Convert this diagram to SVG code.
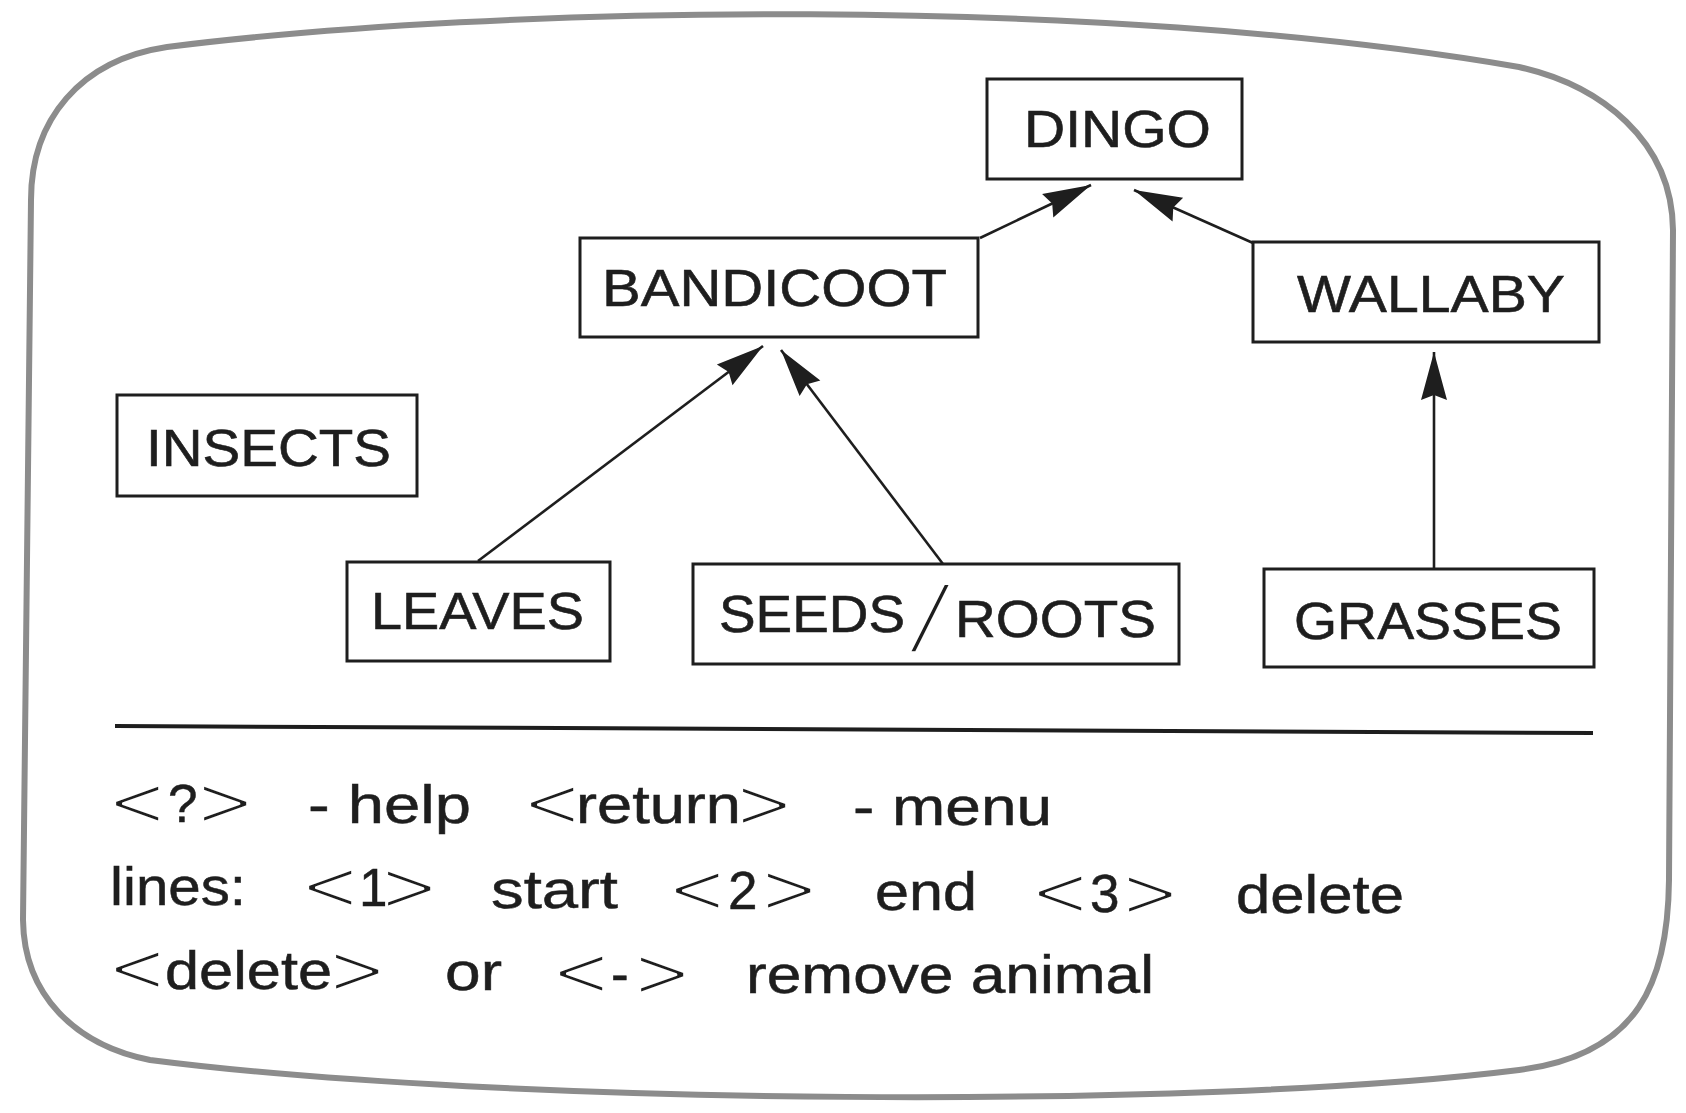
<svg xmlns="http://www.w3.org/2000/svg" width="1686" height="1113" viewBox="0 0 1686 1113">
<defs>
<marker id="ah" markerUnits="userSpaceOnUse" viewBox="-52 -16 54 32" markerWidth="54" markerHeight="32" refX="0" refY="0" orient="auto">
<path d="M0,0 L-48,-13 L-43,0 L-48,13 Z" fill="#1e1e1e"/>
</marker>
</defs>
<style>
.frame{fill:none;stroke:#8c8c8c;stroke-width:6;stroke-linejoin:round}
.box{fill:#fff;stroke:#1e1e1e;stroke-width:3}
.lbl{font-family:"Liberation Sans",Arial,Helvetica,sans-serif;font-size:52px;fill:#1e1e1e;stroke:#1e1e1e;stroke-width:0.6}
.menu{font-family:"Liberation Sans",Arial,Helvetica,sans-serif;font-size:53px;fill:#1e1e1e;stroke:#1e1e1e;stroke-width:0.5}
.br{font-family:"DejaVu Sans","Liberation Sans",sans-serif;font-size:72px;stroke:#fff;stroke-width:3;stroke-linejoin:round}
.slash{font-family:"Liberation Sans",Arial,sans-serif;font-size:95px;fill:#1e1e1e;stroke:#fff;stroke-width:3.5;stroke-linejoin:round}
.conn{fill:none;stroke:#1e1e1e;stroke-width:2.6;marker-end:url(#ah)}
.rule{stroke:#1e1e1e;stroke-width:4}
</style>
<rect width="1686" height="1113" fill="#fff"/>
<path class="frame" d="M167,47 C500,5 1100,-5 1519,67 C1600,85 1672,140 1673,230 L1669,880 C1668,980 1640,1055 1519,1070 C1200,1110 500,1105 150,1060 C75,1045 24,995 23,920 L31,200 C31,120 80,60 167,47 Z"/>
<g id="connectors">
<line class="conn" x1="980" y1="238" x2="1091" y2="185"/>
<line class="conn" x1="1253" y1="243" x2="1134" y2="190"/>
<line class="conn" x1="478" y1="561" x2="763" y2="346"/>
<line class="conn" x1="943" y1="564" x2="781" y2="350"/>
<line class="conn" x1="1434" y1="568" x2="1434" y2="352"/>
</g>
<g id="node-dingo">
<rect class="box" x="987" y="79" width="255" height="100"/>
<text class="lbl" x="1024" y="147" textLength="187" lengthAdjust="spacingAndGlyphs">DINGO</text>
</g>
<g id="node-bandicoot">
<rect class="box" x="580" y="238" width="398" height="99"/>
<text class="lbl" x="602" y="306" textLength="345" lengthAdjust="spacingAndGlyphs">BANDICOOT</text>
</g>
<g id="node-wallaby">
<rect class="box" x="1253" y="242" width="346" height="100"/>
<text class="lbl" x="1297" y="312" textLength="268" lengthAdjust="spacingAndGlyphs">WALLABY</text>
</g>
<g id="node-insects">
<rect class="box" x="117" y="395" width="300" height="101"/>
<text class="lbl" x="146" y="466" textLength="245" lengthAdjust="spacingAndGlyphs">INSECTS</text>
</g>
<g id="node-leaves">
<rect class="box" x="347" y="562" width="263" height="99"/>
<text class="lbl" x="371" y="629" textLength="213" lengthAdjust="spacingAndGlyphs">LEAVES</text>
</g>
<g id="node-seeds-roots">
<rect class="box" x="693" y="564" width="486" height="100"/>
<text class="lbl"><tspan x="719" y="632" textLength="186" lengthAdjust="spacingAndGlyphs">SEEDS</tspan><tspan x="955" y="637" textLength="201" lengthAdjust="spacingAndGlyphs">ROOTS</tspan></text>
<text class="slash" transform="translate(909,652) skewX(-13)">/</text>
</g>
<g id="node-grasses">
<rect class="box" x="1264" y="569" width="330" height="98"/>
<text class="lbl" x="1294" y="639" textLength="268" lengthAdjust="spacingAndGlyphs">GRASSES</text>
</g>
<line class="rule" x1="115" y1="726" x2="1593" y2="733"/>
<g id="menu">
<text class="menu"><tspan class="br" x="107" y="826">&lt;</tspan><tspan x="168" y="822" style="letter-spacing:-5px">?</tspan><tspan class="br" x="195" y="826">&gt;</tspan></text>
<text class="menu" x="308" y="823" textLength="163" lengthAdjust="spacingAndGlyphs">- help</text>
<text class="menu"><tspan class="br" x="522" y="827">&lt;</tspan><tspan x="576" y="823" textLength="165" lengthAdjust="spacingAndGlyphs">return</tspan><tspan class="br" x="734" y="828">&gt;</tspan></text>
<text class="menu" x="853" y="825" textLength="199" lengthAdjust="spacingAndGlyphs">- menu</text>

<text class="menu" x="110" y="905" textLength="136" lengthAdjust="spacingAndGlyphs">lines:</text>
<text class="menu"><tspan class="br" x="300" y="910">&lt;</tspan><tspan x="359" y="906" style="letter-spacing:-11px">1</tspan><tspan class="br" x="379" y="911">&gt;</tspan></text>
<text class="menu" x="491" y="908" textLength="127" lengthAdjust="spacingAndGlyphs">start</text>
<text class="menu"><tspan class="br" x="667" y="913">&lt;</tspan><tspan x="728" y="909">2</tspan><tspan class="br" x="759" y="913">&gt;</tspan></text>
<text class="menu" x="875" y="910" textLength="102" lengthAdjust="spacingAndGlyphs">end</text>
<text class="menu"><tspan class="br" x="1030" y="916">&lt;</tspan><tspan x="1090" y="912">3</tspan><tspan class="br" x="1120" y="917">&gt;</tspan></text>
<text class="menu" x="1236" y="913" textLength="168" lengthAdjust="spacingAndGlyphs">delete</text>

<text class="menu"><tspan class="br" x="107" y="992">&lt;</tspan><tspan x="165" y="989" textLength="167" lengthAdjust="spacingAndGlyphs">delete</tspan><tspan class="br" x="327" y="994">&gt;</tspan></text>
<text class="menu" x="445" y="990" textLength="57" lengthAdjust="spacingAndGlyphs">or</text>
<text class="menu"><tspan class="br" x="551" y="996">&lt;</tspan><tspan x="611" y="992">-</tspan><tspan class="br" x="632" y="997">&gt;</tspan></text>
<text class="menu" x="746" y="993" textLength="408" lengthAdjust="spacingAndGlyphs">remove animal</text>
</g>
</svg>
